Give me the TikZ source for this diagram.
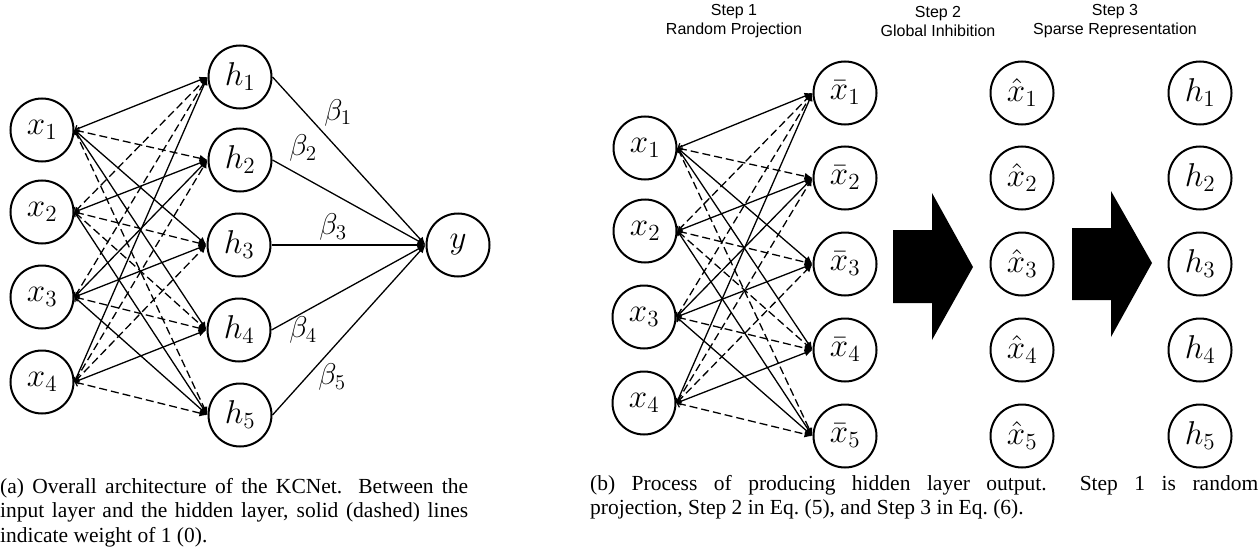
\documentclass[tikz,border=0pt]{standalone}
\usepackage{amsmath}
\usepackage{amssymb}
\usepackage{fontspec}
\setmainfont{Liberation Serif}
\setsansfont{Liberation Sans}
\usetikzlibrary{arrows.meta}

% scalable math letters for the big node labels
\DeclareFontShape{OML}{cmm}{m}{it}{<->cmmi12}{}
\DeclareFontShape{OT1}{cmr}{m}{n}{<->cmr12}{}
\DeclareFontShape{OMS}{cmsy}{m}{n}{<->cmsy10}{}

\tikzset{
	neuron/.style={draw, circle, line width=2pt, minimum size=63pt, inner sep=0pt,
		font=\fontsize{33}{34}\selectfont},
	wone/.style={line width=1.3pt, {Straight Barb[length=3pt,width=7pt]}-{Latex[length=8pt,width=7pt]}},
	wzero/.style={wone, dash pattern=on 8pt off 4pt},
	wout/.style={line width=1.3pt, -{Latex[length=8pt,width=7pt]}},
	wlabel/.style={font=\fontsize{30}{31}\selectfont},
	steplabel/.style={align=center, font=\sffamily\fontsize{16}{19}\selectfont},
	caption/.style={anchor=north west, inner sep=0pt, align=justify,
		font=\fontsize{21.5}{24.5}\selectfont}
}

\begin{document}
\begin{tikzpicture}[x=1pt,y=-1pt]
	\useasboundingbox (0,0) rectangle (1260,559);
	
	% (a) overall architecture
	\node[neuron] (x1) at (42,130) {$x_1$};
	\node[neuron] (x2) at (42,212) {$x_2$};
	\node[neuron] (x3) at (42,297) {$x_3$};
	\node[neuron] (x4) at (42,382) {$x_4$};
	
	\node[neuron] (h1) at (240,77) {$h_1$};
	\node[neuron] (h2) at (240,160) {$h_2$};
	\node[neuron] (h3) at (239,245) {$h_3$};
	\node[neuron] (h4) at (239,330) {$h_4$};
	\node[neuron] (h5) at (240,415) {$h_5$};
	
	\node[neuron] (y) at (458,245) {$y$};
	
	\foreach \i/\j in {1/1,1/3,1/4,2/2,2/5,3/2,3/3,3/5,4/1,4/4}
		\draw[wone] (x\i.east) -- (h\j.west);
	\foreach \i/\j in {1/2,1/5,2/1,2/3,2/4,3/1,3/4,4/2,4/3,4/5}
		\draw[wzero] (x\i.east) -- (h\j.west);
	
	\foreach \j in {1,...,5}
		\draw[wout] (h\j.east) -- (y.west);
	
	\node[wlabel] (beta1) at (338,113) {$\beta_1$};
	\node[wlabel] (beta2) at (303,148) {$\beta_2$};
	\node[wlabel] (beta3) at (333,227) {$\beta_3$};
	\node[wlabel] (beta4) at (303,330) {$\beta_4$};
	\node[wlabel] (beta5) at (332,377) {$\beta_5$};
	
	% (b) producing the hidden layer output
	\node[steplabel] (step1) at (734,21) {Step 1\\Random Projection};
	\node[steplabel] (step2) at (938,21) {Step 2\\Global Inhibition};
	\node[steplabel] (step3) at (1115,21) {Step 3\\Sparse Representation};
	
	\node[neuron] (rx1) at (645,148) {$x_1$};
	\node[neuron] (rx2) at (645,231) {$x_2$};
	\node[neuron] (rx3) at (644,317) {$x_3$};
	\node[neuron] (rx4) at (644,403) {$x_4$};
	
	\foreach \k/\yy in {1/93,2/178,3/264,4/350,5/436}{
		\node[neuron] (xbar\k) at (845,\yy) {$\bar{x}_\k$};
		\node[neuron] (xhat\k) at (1022,\yy) {$\hat{x}_\k$};
		\node[neuron] (rh\k) at (1200,\yy) {$h_\k$};
	}
	
	\foreach \i/\j in {1/1,1/3,1/4,2/2,2/5,3/2,3/3,3/5,4/1,4/4}
		\draw[wone] (rx\i.east) -- (xbar\j.west);
	\foreach \i/\j in {1/2,1/5,2/1,2/3,2/4,3/1,3/4,4/2,4/3,4/5}
		\draw[wzero] (rx\i.east) -- (xbar\j.west);
	
	% block arrows
	\fill (893,230) -- (932,230) -- (932,193) -- (973,267) -- (932,340) -- (932,303) -- (893,303) -- cycle;
	\fill (1072,228) -- (1111,228) -- (1111,191) -- (1152,263) -- (1111,337) -- (1111,300) -- (1072,300) -- cycle;
	
	% captions
	\node[caption, text width=468pt] (capa) at (0,478)
		{(a) Overall architecture of the KCNet. Between the\linebreak input layer and the hidden layer, solid (dashed) lines\linebreak indicate weight of 1 (0).};
	\node[caption, text width=668pt] (capb) at (590,475)
		{(b) Process of producing hidden layer output.\ \ Step 1 is random\linebreak projection, Step 2 in Eq.~(5), and Step 3 in Eq.~(6).};
	
\end{tikzpicture}
\end{document}
